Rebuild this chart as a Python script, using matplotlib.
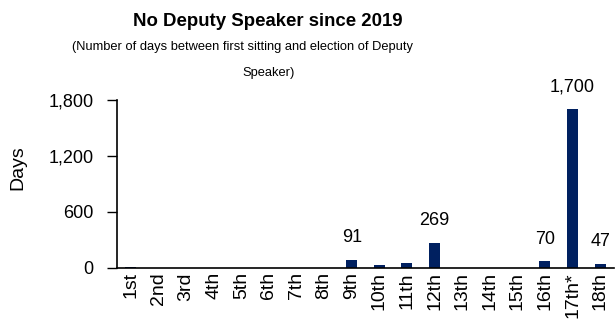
import matplotlib as mpl
import matplotlib.pyplot as plt
import numpy as np

mpl.rcParams['font.family'] = ['Liberation Sans', 'DejaVu Sans']

# Lok Sabha number and days until Deputy Speaker elected
lok_sabha = ['1st', '2nd', '3rd', '4th', '5th', '6th', '7th', '8th', '9th',
             '10th', '11th', '12th', '13th', '14th', '15th', '16th', '17th*', '18th']
days = [14, 0, 0, 5, 0, 4, 3, 0, 91, 34, 52, 269, 0, 0, 0, 70, 1700, 47]
labelled = ['9th', '12th', '16th', '17th*', '18th']

BAR_COLOR = '#002060'

fig = plt.figure(figsize=(6.16, 3.24), dpi=100)
ax = fig.add_axes([117/616, 56/324, (614-117)/616, 168/324])

x = np.arange(len(lok_sabha))
ax.bar(x, days, width=0.4, color=BAR_COLOR)

for xi, name, val in zip(x, lok_sabha, days):
    if name in labelled:
        ax.annotate(f'{val:,}', (xi, val), xytext=(0, 10), textcoords='offset points',
                    ha='center', va='bottom', fontsize=13, clip_on=False)

ax.set_xlim(-0.5, len(lok_sabha) - 0.5)
ax.set_ylim(0, 1800)
ax.set_yticks([0, 600, 1200, 1800])
ax.yaxis.set_major_formatter(mpl.ticker.StrMethodFormatter('{x:,.0f}'))
ax.set_xticks(x)
ax.set_xticklabels(lok_sabha, rotation=90)
ax.tick_params(axis='y', length=7, width=1, labelsize=13, pad=10)
ax.tick_params(axis='x', length=0, labelsize=14, pad=3)
ax.set_ylabel('Days', fontsize=14)
ax.yaxis.set_label_coords(-0.182, 0.6)

for s in ['top', 'right']:
    ax.spines[s].set_visible(False)
ax.spines['left'].set_linewidth(1.2)
ax.spines['bottom'].set_linewidth(1.2)

fig.text(268/616, 1 - 22/324, 'No Deputy Speaker since 2019', ha='center', va='center',
         fontsize=13.4, fontweight='bold')
fig.text(242/616, 1 - 47/324, '(Number of days between first sitting and election of Deputy',
         ha='center', va='center', fontsize=9.3)
fig.text(269/616, 1 - 73/324, 'Speaker)', ha='center', va='center', fontsize=9.3)

fig.savefig('out.png', dpi=100)
